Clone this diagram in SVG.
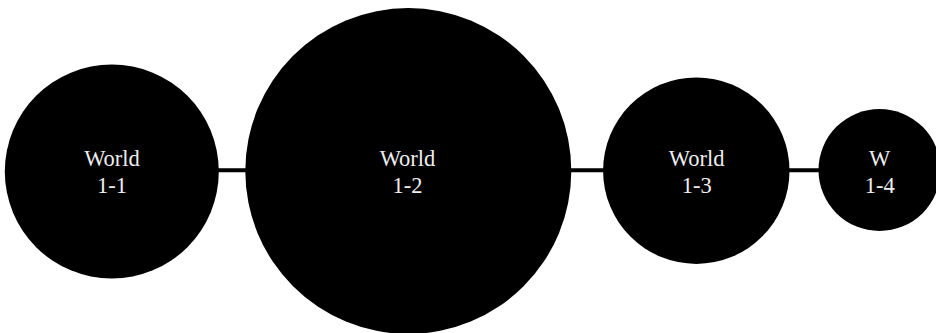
<svg xmlns="http://www.w3.org/2000/svg" width="936" height="333" viewBox="0 0 936 333">
<defs>
<style>
.node circle{fill:#000}
.conn line{stroke:#000;stroke-width:4}
</style>
</defs>
<rect width="936" height="333" fill="#fff"/>
<g id="connectors" class="conn">
<line x1="112" y1="170.3" x2="408" y2="170.3"/>
<line x1="408" y1="170.3" x2="696.5" y2="170.3"/>
<line x1="696.5" y1="170.3" x2="879.5" y2="170.3"/>
</g>
<g id="world-1-1" class="node">
<circle cx="111.8" cy="171.5" r="107"/>
<text x="112" y="166" font-family="Liberation Serif" font-size="22.5" fill="#eeeeee" text-anchor="middle">World</text>
<text x="112" y="193" font-family="Liberation Serif" font-size="22.5" fill="#eeeeee" text-anchor="middle">1-1</text>
</g>
<g id="world-1-2" class="node">
<circle cx="408.3" cy="171" r="163"/>
<text x="407.5" y="166" font-family="Liberation Serif" font-size="22.5" fill="#eeeeee" text-anchor="middle">World</text>
<text x="407.5" y="193" font-family="Liberation Serif" font-size="22.5" fill="#eeeeee" text-anchor="middle">1-2</text>
</g>
<g id="world-1-3" class="node">
<circle cx="696.3" cy="170.7" r="93.2"/>
<text x="696.7" y="166" font-family="Liberation Serif" font-size="22.5" fill="#eeeeee" text-anchor="middle">World</text>
<text x="696.7" y="193" font-family="Liberation Serif" font-size="22.5" fill="#eeeeee" text-anchor="middle">1-3</text>
</g>
<g id="world-1-4" class="node">
<circle cx="879.5" cy="170" r="61"/>
<text x="879.7" y="166" font-family="Liberation Serif" font-size="22.5" fill="#eeeeee" text-anchor="middle">W</text>
<text x="879.7" y="193" font-family="Liberation Serif" font-size="22.5" fill="#eeeeee" text-anchor="middle">1-4</text>
</g>
</svg>
